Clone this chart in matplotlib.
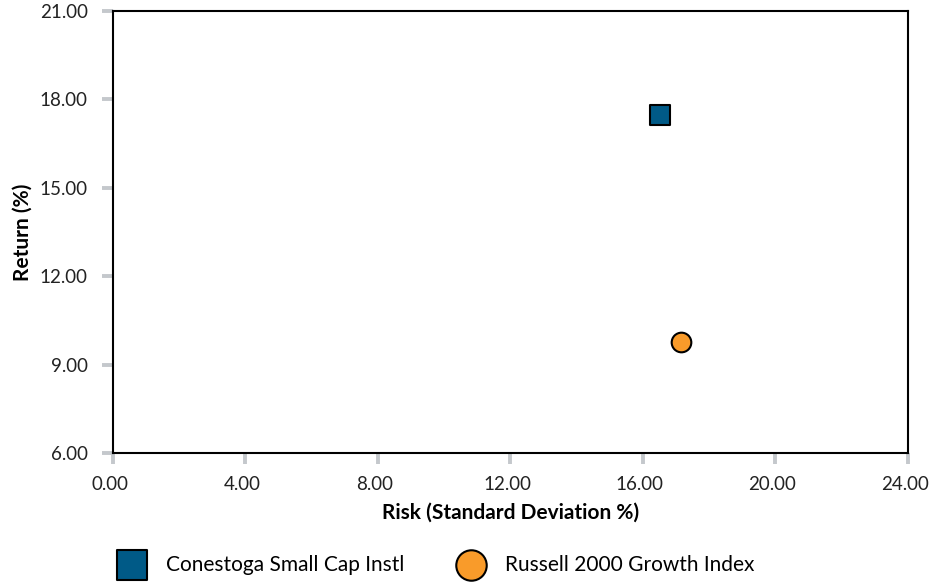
import numpy as np
import matplotlib.pyplot as plt
from matplotlib.transforms import ScaledTranslation

plt.rcParams['font.family'] = ['Lato', 'DejaVu Sans']

# Datos (riesgo vs retorno)
names = ["Conestoga Small Cap Instl", "Russell 2000 Growth Index"]
risk = [16.51, 17.17]
ret = [17.47, 9.78]
markers = ["s", "o"]
colors = ["#005a87", "#f99b2a"]

xticks = [0, 4, 8, 12, 16, 20, 24]
yticks = [6, 9, 12, 15, 18, 21]

fig = plt.figure(figsize=(9.3, 5.82), dpi=100)
ax = fig.add_axes([0.1212, 0.2211, 0.8548, 0.7605])

for n, x, y, m, c in zip(names, risk, ret, markers, colors):
    ax.scatter([x], [y], marker=m, s=200, color=c, edgecolor="black",
               linewidth=1.5, label=n, zorder=3)

ax.set_xlim(0, 24)
ax.set_ylim(6, 21)
ax.set_xticks(xticks)
ax.set_yticks(yticks)
ax.set_xticklabels([f"{v:.2f}" for v in xticks])
ax.set_yticklabels([f"{v:.2f}" for v in yticks])
ax.tick_params(axis="both", length=8, width=2.8, color="#c4c8cc",
               labelsize=13.5, labelcolor="#222222")
ax.tick_params(axis="y", pad=10)
ax.tick_params(axis="x", pad=8)

# etiquetas x un poco corridas a la izquierda (como en el original)
off = ScaledTranslation(-3 / 100, 0, fig.dpi_scale_trans)
for lab in ax.get_xticklabels():
    lab.set_transform(lab.get_transform() + off)

for s in ax.spines.values():
    s.set_linewidth(1.5)
    s.set_color("black")

ax.set_xlabel("Risk (Standard Deviation %)", fontsize=15, fontweight="bold",
              labelpad=7)
ax.set_ylabel("Return (%)", fontsize=15, fontweight="bold", labelpad=5)

h, l = ax.get_legend_handles_labels()
fig.legend(h, l, loc="center left", bbox_to_anchor=(0.099, 0.030), ncol=2,
           frameon=False, fontsize=15, markerscale=1.55, handletextpad=0.65,
           columnspacing=2.2)

fig.savefig("out.png", dpi=100)
